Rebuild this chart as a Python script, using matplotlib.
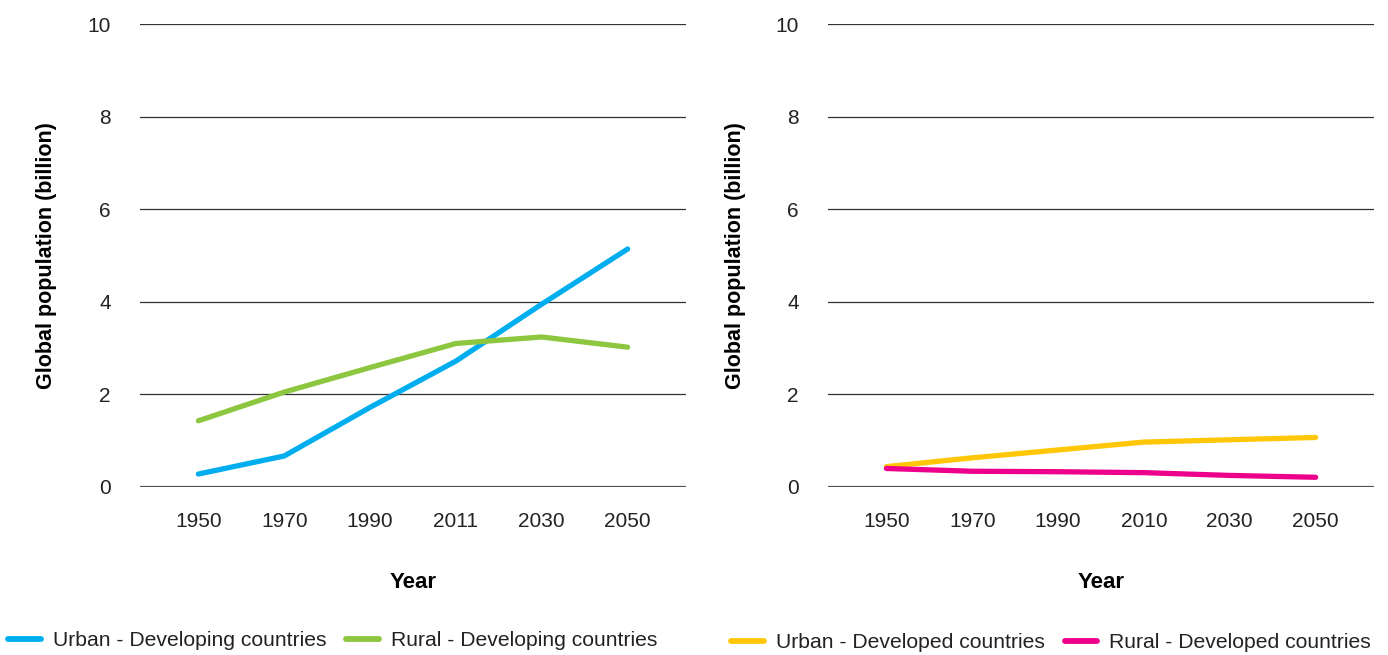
import matplotlib
matplotlib.use("Agg")
import matplotlib.pyplot as plt
from matplotlib.lines import Line2D

plt.rcParams['font.family'] = ['Liberation Sans', 'DejaVu Sans']

years_dev = ["1950", "1970", "1990", "2011", "2030", "2050"]
urban_developing = [0.28, 0.67, 1.72, 2.72, 3.95, 5.14]
rural_developing = [1.43, 2.05, 2.58, 3.10, 3.24, 3.02]

years_dvd = ["1950", "1970", "1990", "2010", "2030", "2050"]
urban_developed = [0.44, 0.63, 0.80, 0.97, 1.02, 1.07]
rural_developed = [0.40, 0.34, 0.33, 0.31, 0.25, 0.21]

yticks = [0, 2, 4, 6, 8, 10]

C_URBAN_DEV = "#00aeef"
C_RURAL_DEV = "#8dc63f"
C_URBAN_DVD = "#ffc708"
C_RURAL_DVD = "#ec008c"
TXT = "#222222"

W, H = 1388, 655
fig = plt.figure(figsize=(W / 100, H / 100), dpi=100)
ax1 = fig.add_axes([140/W, 1-487/H, 546/W, 463/H])
ax2 = fig.add_axes([828/W, 1-487/H, 546/W, 463/H])

def style(ax, cats):
    ax.set_ylim(0, 10)
    ax.set_xlim(-0.68, len(cats) - 1 + 0.68)
    ax.set_yticks(yticks)
    ax.set_xticks(range(len(cats)))
    ax.set_xticklabels(cats)
    for s in ax.spines.values():
        s.set_visible(False)
    for y in yticks:
        if y == 0:
            ax.axhline(y, color="#555555", lw=1.6, zorder=1)
        else:
            ax.axhline(y, color="#333333", lw=0.9, zorder=1)
    ax.tick_params(axis="both", length=0, labelsize=15, colors=TXT)
    ax.tick_params(axis="y", pad=21)
    ax.tick_params(axis="x", pad=18)
    ax.set_ylabel("Global population (billion)", fontsize=15.5, fontweight="bold", color="black")
    ax.yaxis.set_label_coords(-93/546, 0.5)
    ax.set_xlabel("Year", fontsize=16, fontweight="bold", color="black")
    ax.xaxis.set_label_coords(0.5, -95/463)
    ax.xaxis.label.set_va("center")
    ax.yaxis.label.set_va("center")

style(ax1, years_dev)
style(ax2, years_dvd)

x1 = range(len(years_dev))
x2 = range(len(years_dvd))
kw = dict(lw=3.8, solid_capstyle="round", solid_joinstyle="round", zorder=3)
ax1.plot(x1, urban_developing, color=C_URBAN_DEV, **kw)
ax1.plot(x1, rural_developing, color=C_RURAL_DEV, **kw)
ax2.plot(x2, urban_developed, color=C_URBAN_DVD, **kw)
ax2.plot(x2, rural_developed, color=C_RURAL_DVD, **kw)

def handle(c):
    return Line2D([0], [0], color=c, lw=4.2, solid_capstyle="round")

lkw = dict(loc="center left", ncol=2, frameon=False, fontsize=15.2, handlelength=1.55,
           handletextpad=0.55, columnspacing=0.95, labelcolor=TXT, borderaxespad=0)
fig.legend([handle(C_URBAN_DEV), handle(C_RURAL_DEV)],
           ["Urban - Developing countries", "Rural - Developing countries"],
           bbox_to_anchor=(0.0, 1-641/H), **lkw)
fig.legend([handle(C_URBAN_DVD), handle(C_RURAL_DVD)],
           ["Urban - Developed countries", "Rural - Developed countries"],
           bbox_to_anchor=(723/W, 1-643/H), **lkw)

fig.savefig("out.png", dpi=100)
